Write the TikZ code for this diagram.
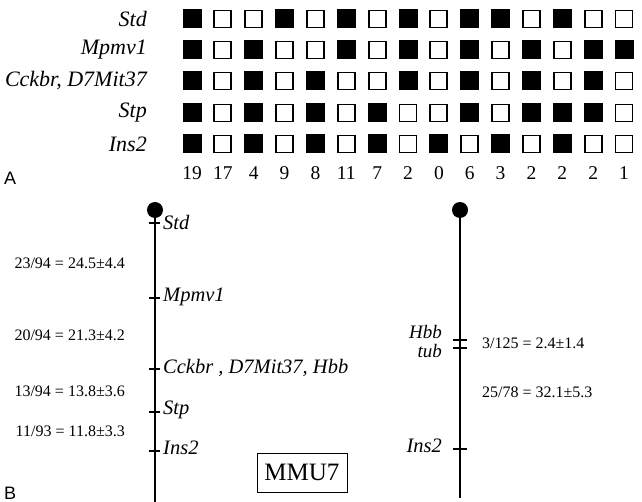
\documentclass[tikz,border=0pt]{standalone}
\usepackage{fontspec}
\setmainfont{Liberation Serif}
\setsansfont{Liberation Sans}
\begin{document}
\begin{tikzpicture}[x=1pt,y=-1pt,
  sqb/.style={draw=black,fill=black,line width=1pt,minimum size=18pt,inner sep=0pt},
  sqw/.style={draw=black,fill=white,line width=1.8pt,minimum size=17pt,inner sep=0pt},
  rowlab/.style={anchor=east,inner sep=0pt,font=\fontsize{22}{24}\selectfont\itshape},
  cnt/.style={inner sep=0pt,font=\fontsize{19.5}{21}\selectfont},
  panel/.style={inner sep=0pt,font=\fontsize{18}{20}\selectfont\sffamily},
  chrom/.style={line width=2.6pt},
  cen/.style={circle,fill=black,minimum size=16pt,inner sep=0pt},
  tick/.style={line width=1.3pt},
  glab/.style={inner sep=0pt,font=\fontsize{20.5}{22}\selectfont\itshape},
  slab/.style={inner sep=0pt,font=\fontsize{19}{20}\selectfont\itshape},
  dist/.style={inner sep=0pt,font=\fontsize{16}{18}\selectfont},
  mmu/.style={draw=black,line width=1pt,minimum width=90pt,minimum height=39pt,inner sep=0pt,font=\fontsize{25}{27}\selectfont}
]
\useasboundingbox (0,0) rectangle (642,502);

% ---------- Panel A ----------
\def\colx#1{192+30.86*(#1-1)}
\node[rowlab] (lStd) at (147,19) {Std};
\node[rowlab] (lMp) at (147,50) {Mpmv1};
\node[rowlab] (lCc) at (147,81) {Cckbr, D7Mit37};
\node[rowlab] (lStp) at (147,113) {Stp};
\node[rowlab] (lIns) at (147,144) {Ins2};

\foreach \v [count=\c] in {1,0,0,1,0,1,0,1,0,1,1,0,1,0,0}
  {\ifnum\v=1 \node[sqb] (a1\c) at ({\colx{\c}},19) {};\else \node[sqw] (a1\c) at ({\colx{\c}},19) {};\fi}
\foreach \v [count=\c] in {1,0,1,0,0,1,0,1,0,1,0,1,0,1,1}
  {\ifnum\v=1 \node[sqb] (a2\c) at ({\colx{\c}},50) {};\else \node[sqw] (a2\c) at ({\colx{\c}},50) {};\fi}
\foreach \v [count=\c] in {1,0,1,0,1,0,0,1,0,1,0,1,0,1,0}
  {\ifnum\v=1 \node[sqb] (a3\c) at ({\colx{\c}},81) {};\else \node[sqw] (a3\c) at ({\colx{\c}},81) {};\fi}
\foreach \v [count=\c] in {1,0,1,0,1,0,1,0,0,1,0,1,1,1,0}
  {\ifnum\v=1 \node[sqb] (a4\c) at ({\colx{\c}},113) {};\else \node[sqw] (a4\c) at ({\colx{\c}},113) {};\fi}
\foreach \v [count=\c] in {1,0,1,0,1,0,1,0,1,0,1,0,1,0,0}
  {\ifnum\v=1 \node[sqb] (a5\c) at ({\colx{\c}},144) {};\else \node[sqw] (a5\c) at ({\colx{\c}},144) {};\fi}
\foreach \n [count=\c] in {19,17,4,9,8,11,7,2,0,6,3,2,2,2,1}
  {\node[cnt] (n\c) at ({\colx{\c}},173) {\n};}

\node[panel,anchor=west] (pA) at (4,178) {A};
\node[panel,anchor=base west] (pB) at (4,499.5) {B};

% ---------- Panel B, left chromosome ----------
\node[cen] (c1) at (155,210) {};
\coordinate (c1end) at (155,502);
\draw[chrom] (c1.center) -- (c1end);
\foreach \y/\nm in {223/t1,298/t2,369/t3,412/t4,451/t5}
  {\draw[tick] (149,\y) -- (160,\y); \coordinate (\nm) at (160,\y);}
\node[glab,anchor=west] (gStd) at (163,222) {Std};
\node[glab,anchor=west] (gMp) at (163,297) {Mpmv1};
\node[glab,anchor=west] (gCc) at (163,368) {Cckbr , D7Mit37, Hbb};
\node[glab,anchor=west] (gStp) at (163,410) {Stp};
\node[glab,anchor=west] (gIns) at (163,448) {Ins2};

\node[dist,anchor=east] (d1) at (125,263) {23/94 = 24.5±4.4};
\node[dist,anchor=east] (d2) at (125,335) {20/94 = 21.3±4.2};
\node[dist,anchor=east] (d3) at (125,391) {13/94 = 13.8±3.6};
\node[dist,anchor=east] (d4) at (125,431) {11/93 = 11.8±3.3};

\node[mmu] (box) at (302,472.5) {MMU7};

% ---------- Panel B, right chromosome ----------
\node[cen] (c2) at (460,210) {};
\coordinate (c2end) at (460,498);
\draw[chrom] (c2.center) -- (c2end);
\foreach \y/\nm in {340/u1,348/u2,449/u3}
  {\draw[tick] (453,\y) -- (467,\y); \coordinate (\nm) at (453,\y);}
\node[slab,anchor=east] (hHbb) at (442,332.5) {Hbb};
\node[slab,anchor=east] (hTub) at (442,351) {tub};
\node[glab,anchor=east] (hIns) at (442,446) {Ins2};
\node[dist,anchor=west] (e1) at (482,343) {3/125 = 2.4±1.4};
\node[dist,anchor=west] (e2) at (482,392) {25/78 = 32.1±5.3};
\end{tikzpicture}
\end{document}
